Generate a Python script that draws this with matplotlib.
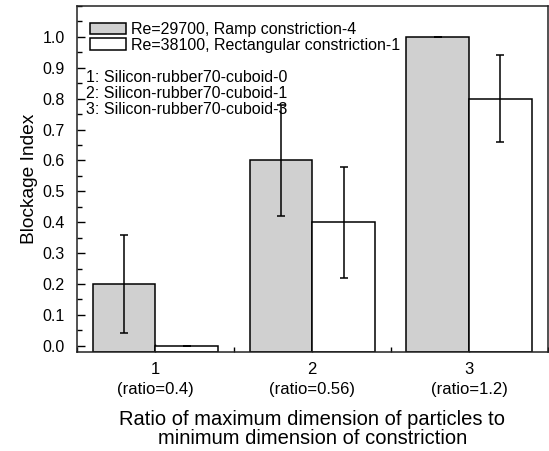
import matplotlib
matplotlib.use("Agg")
import matplotlib.pyplot as plt
import numpy as np
from matplotlib.ticker import MultipleLocator

plt.rcParams['font.family'] = ['Liberation Sans', 'DejaVu Sans']

categories = [1, 2, 3]
tick_labels = ["1\n(ratio=0.4)", "2\n(ratio=0.56)", "3\n(ratio=1.2)"]
ramp_values = [0.2, 0.6, 1.0]
ramp_err = [0.16, 0.18, 0.0]
rect_values = [0.0, 0.4, 0.8]
rect_err = [0.0, 0.18, 0.14]
series_labels = ["Re=29700, Ramp constriction-4", "Re=38100, Rectangular constriction-1"]
notes = ["1: Silicon-rubber70-cuboid-0", "2: Silicon-rubber70-cuboid-1", "3: Silicon-rubber70-cuboid-3"]

fig = plt.figure(figsize=(5.49, 4.51), dpi=100)
ax = fig.add_axes([77/549, 1-352/451, (547.5-77)/549, (352-6)/451])

ymin, ymax = -0.02, 1.1
x = np.array(categories, dtype=float)
w = 0.4
lw = 1.1
ax.bar(x - w/2, np.array(ramp_values) - ymin, w, bottom=ymin, color='#d0d0d0',
       edgecolor='black', linewidth=lw, label=series_labels[0], zorder=2)
ax.bar(x + w/2, np.array(rect_values) - ymin, w, bottom=ymin, color='white',
       edgecolor='black', linewidth=lw, label=series_labels[1], zorder=2)
ax.errorbar(x - w/2, ramp_values, yerr=ramp_err, fmt='none', ecolor='black',
            elinewidth=1.1, capsize=3.2, capthick=1.1, zorder=3)
ax.errorbar(x + w/2, rect_values, yerr=rect_err, fmt='none', ecolor='black',
            elinewidth=1.1, capsize=3.2, capthick=1.1, zorder=3)

ax.set_xlim(0.5, 3.5)
ax.set_ylim(ymin, ymax)
ax.set_xticks(categories)
ax.set_xticklabels(tick_labels, fontsize=12, linespacing=1.45)
ax.xaxis.set_minor_locator(MultipleLocator(0.5))
ax.set_yticks(np.arange(0, 1.01, 0.1))
ax.set_yticklabels([f"{v:.1f}" for v in np.arange(0, 1.01, 0.1)], fontsize=11.5)
ax.yaxis.set_minor_locator(MultipleLocator(0.05))
ax.tick_params(which='both', direction='in', top=False, right=False)
ax.tick_params(which='major', length=6, width=1)
ax.tick_params(which='minor', length=3.5, width=1)
ax.tick_params(axis='x', pad=7)
ax.tick_params(axis='y', pad=9)
for s in ax.spines.values():
    s.set_linewidth(1.1)
    s.set_color('#222222')

ax.set_ylabel("Blockage Index", fontsize=13.8, labelpad=3)
ax.set_xlabel("Ratio of maximum dimension of particles to\nminimum dimension of constriction",
              fontsize=14.5, labelpad=9, linespacing=1.0)

leg = ax.legend(loc='upper left', bbox_to_anchor=(8/470.5, 1 - 11/346), bbox_transform=ax.transAxes,
                frameon=False, fontsize=11.5,
                handlelength=2.25, handleheight=0.69, handletextpad=0.3, labelspacing=0.05,
                borderaxespad=0.0, borderpad=0.3)
for i, t in enumerate(notes):
    ax.text(9/470.5, 0.7946 - i*0.0462, t, transform=ax.transAxes, fontsize=11.5, va='center', ha='left')

fig.savefig("out.png", dpi=100)
